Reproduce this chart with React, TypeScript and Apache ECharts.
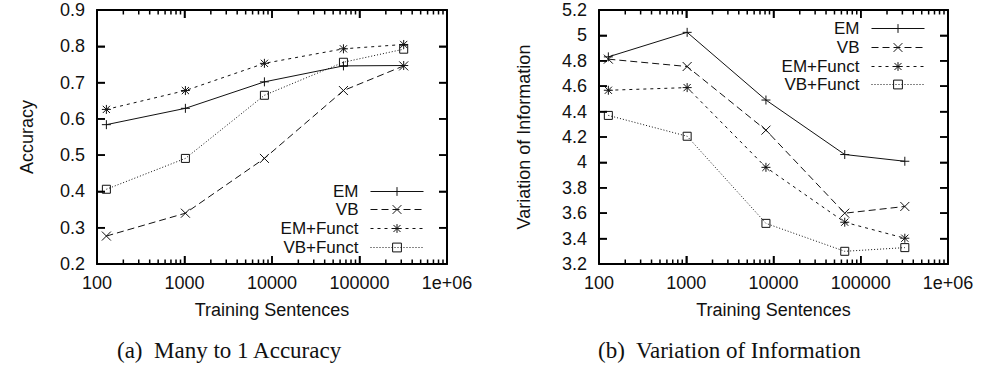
import React, { useEffect, useRef } from "react";
import * as echarts from "echarts";

// ---- Data ----
const trainingSentences = [128, 1024, 8192, 65536, 320000];
const seriesNames = ["EM", "VB", "EM+Funct", "VB+Funct"];

// (a) Many to 1 Accuracy
const accEM = [0.584, 0.629, 0.702, 0.746, 0.747];
const accVB = [0.277, 0.34, 0.491, 0.678, 0.746];
const accEMFunct = [0.626, 0.678, 0.753, 0.793, 0.805];
const accVBFunct = [0.406, 0.491, 0.665, 0.756, 0.792];

// (b) Variation of Information
const viEM = [4.831, 5.024, 4.491, 4.062, 4.009];
const viVB = [4.813, 4.755, 4.254, 3.6, 3.653];
const viEMFunct = [4.568, 4.589, 3.961, 3.529, 3.403];
const viVBFunct = [4.37, 4.206, 3.52, 3.3, 3.329];

// Tick labels
const xTickLabels = ["100", "1000", "10000", "100000", "1e+06"];
const accTickLabels = ["0.2", "0.3", "0.4", "0.5", "0.6", "0.7", "0.8", "0.9"];
const viTickLabels = ["3.2", "3.4", "3.6", "3.8", "4", "4.2", "4.4", "4.6", "4.8", "5", "5.2"];
const xMajorTicks = [100, 1000, 10000, 100000, 1000000];
const minorMultipliers = [2, 3, 4, 5, 6, 7, 8, 9];
const decadeStarts = [100, 1000, 10000, 100000];

const SANS = "'Liberation Sans', Arial, Helvetica, sans-serif";
const SERIF = "'Liberation Serif', 'Times New Roman', serif";
const INK = "#111";
const FS = 18;

const symbols: Record<string, string> = {
  EM: "path://M5 0L5 10M0 5L10 5",
  VB: "path://M0 0L10 10M10 0L0 10",
  "EM+Funct": "path://M5 0L5 10M0 5L10 5M1 1L9 9M9 1L1 9",
  "VB+Funct": "rect",
};
const dashes: Record<string, any> = {
  EM: "solid",
  VB: [7, 4],
  "EM+Funct": [3, 4],
  "VB+Funct": [1, 2],
};

function makeMajorTick() {
  return { show: true, inside: true, length: 8, lineStyle: { color: "black", width: 1.5 } };
}
function makeFrameLine() {
  return { show: true, lineStyle: { color: "black", width: 2 } };
}

function makeOption() {
  const xTicks: number[][] = xMajorTicks.map((v) => [v, 8]);
  decadeStarts.forEach((d) => minorMultipliers.forEach((k) => xTicks.push([k * d, 4.5])));

  const grids = [
    { left: 97, top: 10, width: 350, height: 254 },
    { left: 599, top: 10, width: 349, height: 254 },
  ];

  const xAxis: any[] = [];
  const yAxis: any[] = [];
  const yRanges: { min: number; max: number; labels: string[] }[] = [];
  grids.forEach((_, g) => {
    xAxis.push({
      gridIndex: g,
      type: "log",
      min: 100,
      max: 1000000,
      position: "bottom",
      axisLine: makeFrameLine(),
      axisTick: makeMajorTick(),
      axisLabel: {
        show: true,
        margin: 10,
        color: INK,
        fontFamily: SANS,
        fontSize: FS,
        formatter: (v: number) => xTickLabels[Math.round(Math.log10(v)) - 2],
      },
      splitLine: { show: false },
      name: "Training Sentences",
      nameLocation: "middle",
      nameGap: 37,
      nameTextStyle: { color: INK, fontFamily: SANS, fontSize: FS },
    });
    xAxis.push({
      gridIndex: g,
      type: "log",
      min: 100,
      max: 1000000,
      position: "top",
      axisLine: makeFrameLine(),
      axisTick: makeMajorTick(),
      axisLabel: { show: false },
      splitLine: { show: false },
    });

    const isAcc = g === 0;
    const ymin = isAcc ? 0.2 : 3.2;
    const ymax = isAcc ? 0.9 : 5.2;
    const step = isAcc ? 0.1 : 0.2;
    const labels = isAcc ? accTickLabels : viTickLabels;
    yRanges.push({ min: ymin, max: ymax, labels });
    yAxis.push({
      gridIndex: g,
      type: "value",
      min: ymin,
      max: ymax,
      interval: step,
      position: "left",
      axisLine: makeFrameLine(),
      axisTick: makeMajorTick(),
      axisLabel: {
        show: true,
        margin: 12,
        color: INK,
        fontFamily: SANS,
        fontSize: FS,
        formatter: (v: number) => labels[Math.round((v - ymin) / step)],
      },
      splitLine: { show: false },
      name: isAcc ? "Accuracy" : "Variation of Information",
      nameLocation: "middle",
      nameGap: isAcc ? 61 : 66,
      nameTextStyle: { color: INK, fontFamily: SANS, fontSize: FS },
    });
    yAxis.push({
      gridIndex: g,
      type: "value",
      min: ymin,
      max: ymax,
      interval: step,
      position: "right",
      axisLine: makeFrameLine(),
      axisTick: makeMajorTick(),
      axisLabel: { show: false },
      splitLine: { show: false },
    });
  });

  const accData = [accEM, accVB, accEMFunct, accVBFunct];
  const viData = [viEM, viVB, viEMFunct, viVBFunct];

  const series: any[] = [];
  [accData, viData].forEach((set, g) => {
    const yr = yRanges[g];
    // x ticks (major + minor log ticks) at bottom and top, placed through the log axis scale
    series.push({
      type: "custom",
      coordinateSystem: "cartesian2d",
      xAxisIndex: g * 2,
      yAxisIndex: g * 2,
      clip: false,
      z: 20,
      data: xTicks.map((t) => [t[0], yr.min, t[1]]),
      renderItem: (params: any, api: any) => {
        const x = api.coord([api.value(0), yr.min])[0];
        const len = api.value(2);
        const cs = params.coordSys;
        const yb = cs.y + cs.height;
        const yt = cs.y;
        return {
          type: "group",
          children: [
            { type: "rect", shape: { x: x - 0.75, y: yb - len, width: 1.5, height: len }, style: { fill: "black" } },
            { type: "rect", shape: { x: x - 0.75, y: yt, width: 1.5, height: len }, style: { fill: "black" } },
          ],
        };
      },
    });
    // y ticks at left and right, placed through the value axis scale
    series.push({
      type: "custom",
      coordinateSystem: "cartesian2d",
      xAxisIndex: g * 2,
      yAxisIndex: g * 2,
      clip: false,
      z: 20,
      data: yr.labels.map((l) => [100, parseFloat(l)]),
      renderItem: (params: any, api: any) => {
        const y = api.coord([100, api.value(1)])[1];
        const cs = params.coordSys;
        return {
          type: "group",
          children: [
            { type: "rect", shape: { x: cs.x, y: y - 0.75, width: 8, height: 1.5 }, style: { fill: "black" } },
            { type: "rect", shape: { x: cs.x + cs.width - 8, y: y - 0.75, width: 8, height: 1.5 }, style: { fill: "black" } },
          ],
        };
      },
    });
    set.forEach((vals, i) => {
      const name = seriesNames[i];
      const isRect = name === "VB+Funct";
      series.push({
        name,
        type: "line",
        xAxisIndex: g * 2,
        yAxisIndex: g * 2,
        data: trainingSentences.map((x, j) => [x, vals[j]]),
        symbol: symbols[name],
        symbolSize: isRect ? 8 : 9,
        showAllSymbol: true,
        lineStyle: { color: INK, width: 1, type: dashes[name] },
        itemStyle: {
          color: isRect ? "rgba(0,0,0,0)" : INK,
          borderColor: INK,
          borderWidth: 1,
        },
        emphasis: { disabled: true },
        z: 3 + i,
      });
    });
  });

  const legendRows = [
    { right: 557, tops: [191, 209, 228, 247] },
    { right: 56, tops: [28, 47, 66, 84] },
  ];
  const legend: any[] = [];
  legendRows.forEach((row) => {
    seriesNames.forEach((name, i) => {
      legend.push({
        data: [name],
        right: row.right,
        top: row.tops[i] - 8,
        orient: "horizontal",
        align: "right",
        itemWidth: 53,
        itemHeight: 11,
        padding: 0,
        selectedMode: false,
        itemStyle: { borderWidth: 1, borderColor: INK },
        lineStyle: { width: 1, color: INK },
        textStyle: {
          color: INK,
          fontFamily: SANS,
          fontSize: 17,
          lineHeight: 16,
          padding: [0, 7, 0, 0],
        },
      });
    });
  });

  return {
    animation: false,
    grid: grids,
    xAxis,
    yAxis,
    series,
    legend,
    graphic: [
      {
        type: "text",
        left: 117,
        top: 339,
        style: { text: "(a)  Many to 1 Accuracy", font: `23px ${SERIF}`, fill: INK },
      },
      {
        type: "text",
        left: 598,
        top: 339,
        style: { text: "(b)  Variation of Information", font: `23px ${SERIF}`, fill: INK },
      },
    ],
  };
}

export default function App() {
  const ref = useRef<HTMLDivElement>(null);
  useEffect(() => {
    if (!ref.current) return;
    const chart = echarts.init(ref.current, undefined, { renderer: "svg" });
    chart.setOption(makeOption() as any);
    return () => chart.dispose();
  }, []);
  return (
    <div
      ref={ref}
      style={{ position: "absolute", left: 0, top: 0, width: 981, height: 369, background: "#fff" }}
    />
  );
}
